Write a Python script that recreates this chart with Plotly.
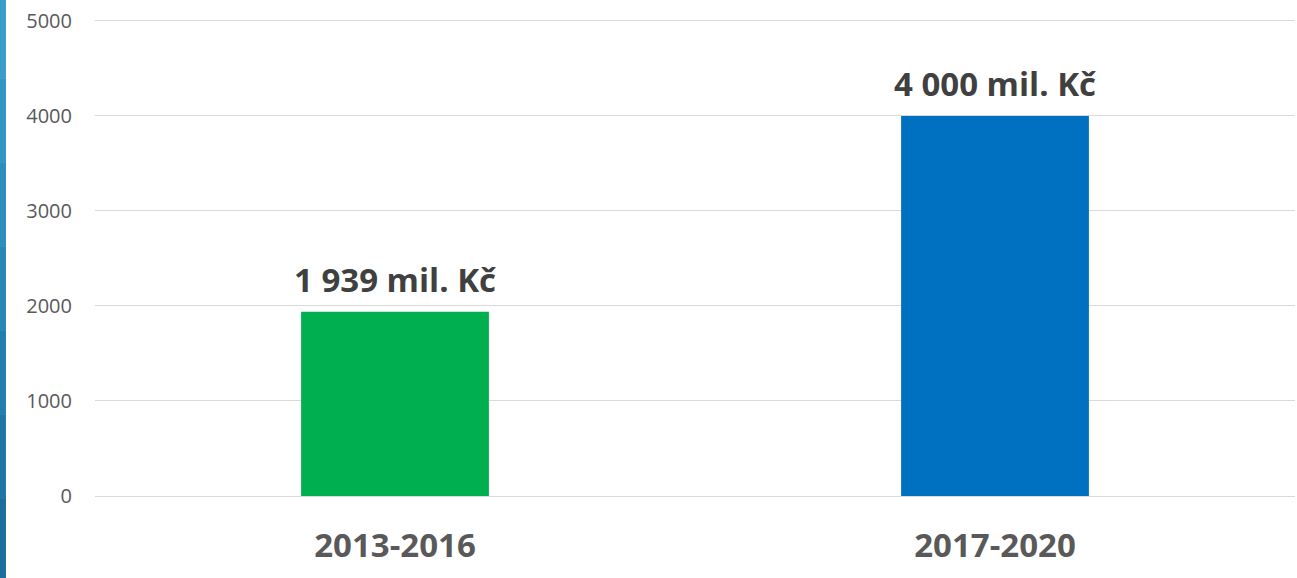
import plotly.graph_objects as go

periods = ["2013-2016", "2017-2020"]
amounts = [1939, 4000]
labels = ["1 939 mil. Kč", "4 000 mil. Kč"]
bar_colors = ["#00b050", "#0070c0"]
y_ticks = [0, 1000, 2000, 3000, 4000, 5000]

fig = go.Figure()
fig.add_trace(go.Bar(x=periods, y=amounts, marker=dict(color=bar_colors, line=dict(width=0)), hoverinfo="skip"))

# value labels above the bars
for p, a, t in zip(periods, amounts, labels):
  fig.add_annotation(x=p, y=a, text=f"<b>{t}</b>", showarrow=False, yanchor="bottom", yshift=8,
                     font=dict(size=33, color="#404040", family="Open Sans"))

# blue strip on the left edge (rough gradient, light top -> dark bottom)
strip = ["#3a9ccb", "#3395c5", "#2d8dbe", "#2885b6", "#237dae", "#1f75a6", "#1b6d9e"]
n = len(strip)
top, span = 1.05, 1.23
for i, c in enumerate(strip):
  fig.add_shape(type="rect", xref="paper", yref="paper", x0=-0.0792, x1=-0.0742,
                y0=top - (i + 1) * span / n, y1=top - i * span / n,
                fillcolor=c, line=dict(width=0), layer="above")

fig.update_layout(width=1297, height=578, plot_bgcolor="white", paper_bgcolor="white",
                  margin=dict(l=95, r=2, t=18, b=82, autoexpand=False), bargap=0.687, showlegend=False,
                  font=dict(family="Open Sans", color="#595959"))
fig.update_xaxes(tickfont=dict(size=33, color="#595959", family="Open Sans"), ticklabelstandoff=27,
                 tickvals=periods, ticktext=[f"<b>{p}</b>" for p in periods], showline=False, automargin=False)
fig.update_yaxes(range=[0, 5030], tickvals=y_ticks, showgrid=True, gridcolor="#d9d9d9", gridwidth=1,
                 zeroline=True, zerolinecolor="#d9d9d9", zerolinewidth=1, automargin=False,
                 tickfont=dict(size=20, color="#595959"), ticklabelstandoff=22)
fig.write_html("out.html", config={"displayModeBar": False},
               post_script="document.body.style.margin='0';document.body.style.overflow='hidden';")
